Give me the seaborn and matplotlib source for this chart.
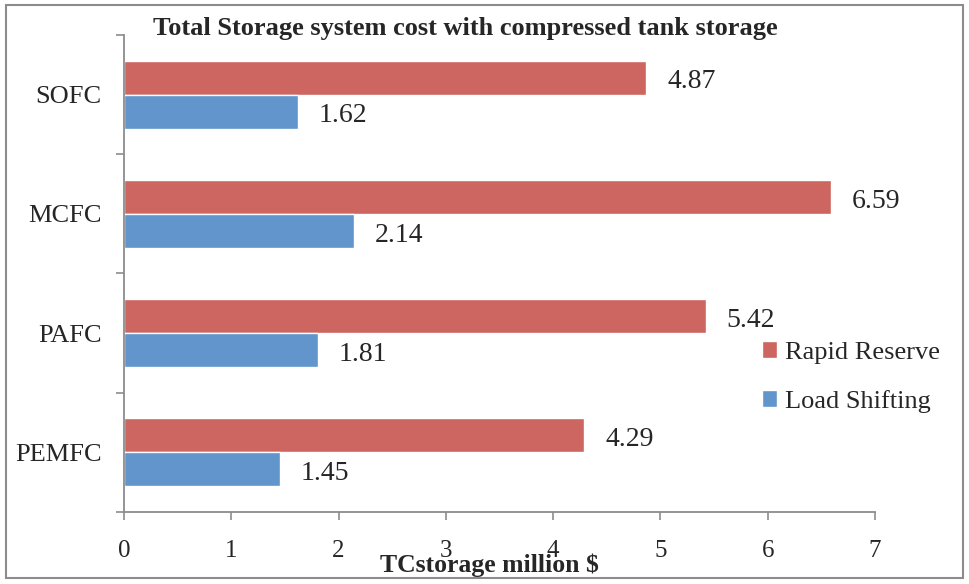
import pandas as pd
import seaborn as sns
import matplotlib.pyplot as plt
from matplotlib.patches import Rectangle

# data
cells = ['SOFC', 'MCFC', 'PAFC', 'PEMFC']
rapid_reserve = [4.87, 6.59, 5.42, 4.29]
load_shifting = [1.62, 2.14, 1.81, 1.45]
series = ['Rapid Reserve', 'Load Shifting']

df = pd.DataFrame({
    'cell': cells * 2,
    'cost': rapid_reserve + load_shifting,
    'scenario': [series[0]] * 4 + [series[1]] * 4,
})

sns.set_style('white')
plt.rcParams['font.family'] = ['Liberation Serif', 'DejaVu Serif']

fig = plt.figure(figsize=(9.69, 5.84), dpi=100)
ax = fig.add_axes([0.128, 0.1233, 0.775, 0.8168])

sns.barplot(data=df, y='cell', x='cost', hue='scenario', order=cells,
            hue_order=series, palette=['#CD6560', '#6195CB'], orient='h',
            width=0.57, saturation=1, ax=ax)

for c in ax.containers:
    anns = ax.bar_label(c, fmt='%.2f', padding=15, fontsize=20)
    for a in anns:
        a.xyann = (15, -3)   # nudge labels a bit below bar centre

ax.set_xlim(0, 7)
ax.set_ylim(3.5, -0.5)
ax.set_xticks(range(8))
ax.tick_params(axis='x', labelsize=18, length=6, width=1.2, color='#8c8c8c',
               direction='out', bottom=True, pad=14)
ax.set_yticks([-0.5, 0.5, 1.5, 2.5, 3.5])
ax.set_yticklabels([])
ax.set_yticks(range(4), minor=True)
ax.set_yticklabels(cells, minor=True)
ax.tick_params(axis='y', which='major', length=6, width=1.2, color='#8c8c8c',
               direction='out', left=True)
ax.tick_params(axis='y', which='minor', length=0, labelsize=19, pad=16)

for s in ['top', 'right']:
    ax.spines[s].set_visible(False)
for s in ['left', 'bottom']:
    ax.spines[s].set_color('#8c8c8c')
    ax.spines[s].set_linewidth(1.3)

ax.set_ylabel('')
ax.set_xlabel('TCstorage million $', fontsize=18.5, fontweight='bold')
ax.xaxis.set_label_coords(0.487, -0.112)
ax.xaxis.label.set_va('center')

fig.text(0.48, 0.952, 'Total Storage system cost with compressed tank storage',
         ha='center', va='center', fontsize=19, fontweight='bold')

ax.legend(frameon=False, fontsize=19, loc='center left',
          bbox_to_anchor=(0.849, 0.283), handlelength=0.6, handleheight=0.6,
          handletextpad=0.3, labelspacing=1.0, borderpad=0, borderaxespad=0)

fig.add_artist(Rectangle((0.006, 0.01), 0.988, 0.982, transform=fig.transFigure,
                         fill=False, edgecolor='#8c8c8c', linewidth=1.5))

fig.savefig('out.png', dpi=100)
